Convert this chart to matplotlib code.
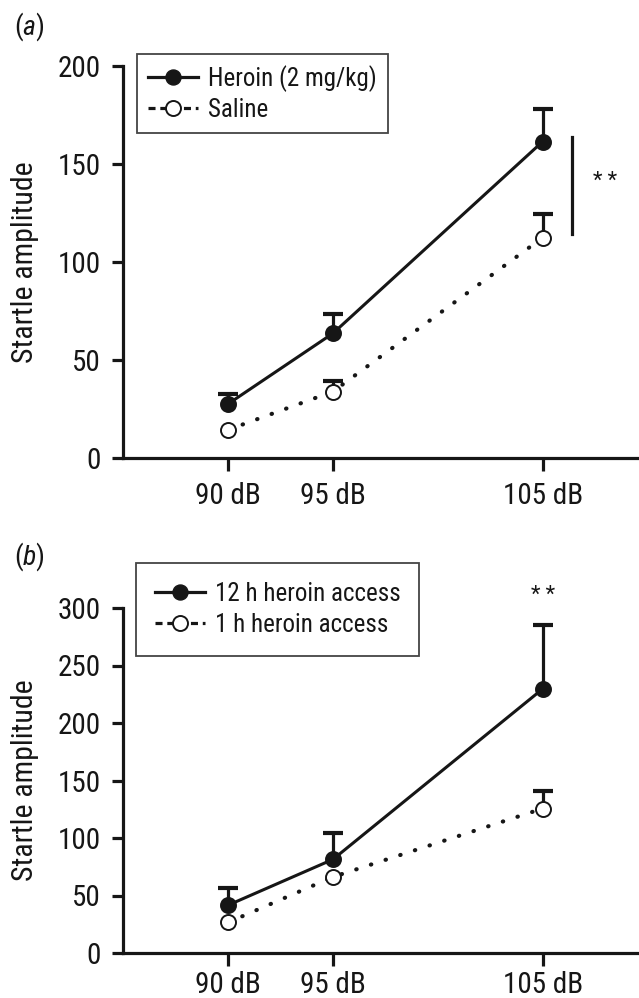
import matplotlib
matplotlib.use("Agg")
import matplotlib.pyplot as plt
from matplotlib import font_manager as fm
from matplotlib.lines import Line2D

# pick a narrow sans if the box has one
entries = fm.fontManager.ttflist
names = {e.name for e in entries}
family = None
for cand in ['Liberation Sans Narrow', 'DejaVu Sans Condensed', 'Roboto Condensed',
             'Open Sans Condensed', 'Noto Sans Condensed']:
    if cand in names:
        family = cand
        break
if family is None:
    family = 'DejaVu Sans'
    if any(e.name == 'DejaVu Sans' and e.stretch == 'condensed' for e in entries):
        plt.rcParams['font.stretch'] = 'condensed'
plt.rcParams['font.family'] = [family, 'DejaVu Sans']
plt.rcParams['mathtext.fontset'] = 'custom'
plt.rcParams['mathtext.it'] = family + ':italic'
plt.rcParams['mathtext.rm'] = family

# ---- data ----
db_levels = [90, 95, 105]
tick_labels = ['90 dB', '95 dB', '105 dB']

# panel (a)
heroin_mean = [27.6, 63.6, 161.4]
heroin_sem = [5.0, 9.8, 16.9]
saline_mean = [14.4, 33.9, 112.4]
saline_sem = [0.0, 5.4, 12.2]
sig_a_range = [114.4, 164.0]

# panel (b)
long_mean = [41.6, 81.4, 229.6]
long_sem = [15.3, 22.6, 56.0]
short_mean = [26.6, 66.1, 125.6]
short_sem = [0.0, 0.0, 15.0]

INK = '#161616'
FIG_W, FIG_H = 639, 998
TICK_FS = 21
LEG_FS = 18


def style_axes(ax, ymax, step, xpad):
    ax.set_xlim(85, 109.6)
    ax.set_ylim(0, ymax)
    ax.spines['top'].set_visible(False)
    ax.spines['right'].set_visible(False)
    for s in ('left', 'bottom'):
        ax.spines[s].set_linewidth(2.3)
        ax.spines[s].set_color(INK)
    ax.set_xticks(db_levels)
    ax.set_xticklabels(tick_labels)
    ax.set_yticks(range(0, ymax + 1, step))
    ax.tick_params(direction='out', width=2.3, color=INK,
                   labelsize=TICK_FS, labelcolor=INK)
    ax.tick_params(axis='y', length=8, pad=8)
    ax.tick_params(axis='x', length=9, pad=xpad)
    ax.set_ylabel('Startle amplitude', fontsize=21.5, color=INK, labelpad=14)


def draw_series(ax, mean, sem, filled):
    ls = '-' if filled else (0, (0.1, 3.6))
    lw = 2.2 if filled else 3.0
    ax.plot(db_levels, mean, color=INK, linewidth=lw, linestyle=ls,
            dash_capstyle='round', zorder=2)
    tops = [m + s for m, s in zip(mean, sem)]
    shown = [i for i, s in enumerate(sem) if s > 0]
    ax.vlines([db_levels[i] for i in shown], [mean[i] for i in shown],
              [tops[i] for i in shown], color=INK, linewidth=2.3, zorder=1)
    ax.plot([db_levels[i] for i in shown], [tops[i] for i in shown],
            linestyle='none', marker='_', markersize=15, markeredgewidth=3,
            color=INK, zorder=1)
    ax.plot(db_levels, mean, linestyle='none', marker='o', markersize=10.8,
            markerfacecolor=INK if filled else 'white',
            markeredgecolor=INK, markeredgewidth=1.4, zorder=3)


def add_legend(ax, labels, anchor, spacing, bpad):
    handles = [
        Line2D([], [], color=INK, linewidth=2.3, marker='o', markersize=10.8,
               markerfacecolor=INK, markeredgecolor=INK),
        Line2D([], [], color=INK, linewidth=2.3, linestyle=(0, (2.2, 1.5)),
               marker='o', markersize=10.8, markerfacecolor='white',
               markeredgecolor=INK, markeredgewidth=1.4),
    ]
    leg = ax.legend(handles, labels, loc='upper left', bbox_to_anchor=anchor,
                    borderaxespad=0, fontsize=LEG_FS, frameon=True,
                    fancybox=False, handlelength=2.0, handletextpad=0.4,
                    borderpad=bpad, labelspacing=spacing, labelcolor=INK)
    leg.get_frame().set_edgecolor(INK)
    leg.get_frame().set_linewidth(1.3)


fig = plt.figure(figsize=(FIG_W / 100, FIG_H / 100), dpi=100)

left = 123.3 / FIG_W
width = 1 - left
ax_a = fig.add_axes([left, 1 - 458 / FIG_H, width, (458 - 66) / FIG_H])
ax_b = fig.add_axes([left, 1 - 953 / FIG_H, width, (953 - 608) / FIG_H])

# (a)
draw_series(ax_a, heroin_mean, heroin_sem, True)
draw_series(ax_a, saline_mean, saline_sem, False)
style_axes(ax_a, 200, 50, 8)
ax_a.plot([106.4, 106.4], sig_a_range, color=INK, linewidth=2.3, clip_on=False)
ax_a.text(108.0, sum(sig_a_range) / 2 + 2, '* *', fontsize=16, color=INK,
          ha='center', va='center')
add_legend(ax_a, ['Heroin (2 mg/kg)', 'Saline'], (0.0265, 1.0315), 0.25, 0.45)

# (b)
draw_series(ax_b, long_mean, long_sem, True)
draw_series(ax_b, short_mean, short_sem, False)
style_axes(ax_b, 300, 50, 4)
ax_b.text(105, 311, '* *', fontsize=16, color=INK, ha='center', va='center',
          clip_on=False)
add_legend(ax_b, ['12 h heroin access', '1 h heroin access'], (0.0245, 1.131),
           0.3, 0.75)

fig.text(14 / FIG_W, 1 - 27 / FIG_H, r'($\mathit{a}$)', fontsize=20,
         color=INK, va='center')
fig.text(14 / FIG_W, 1 - 557 / FIG_H, r'($\mathit{b}$)', fontsize=20,
         color=INK, va='center')

fig.savefig('out.png', dpi=100)
